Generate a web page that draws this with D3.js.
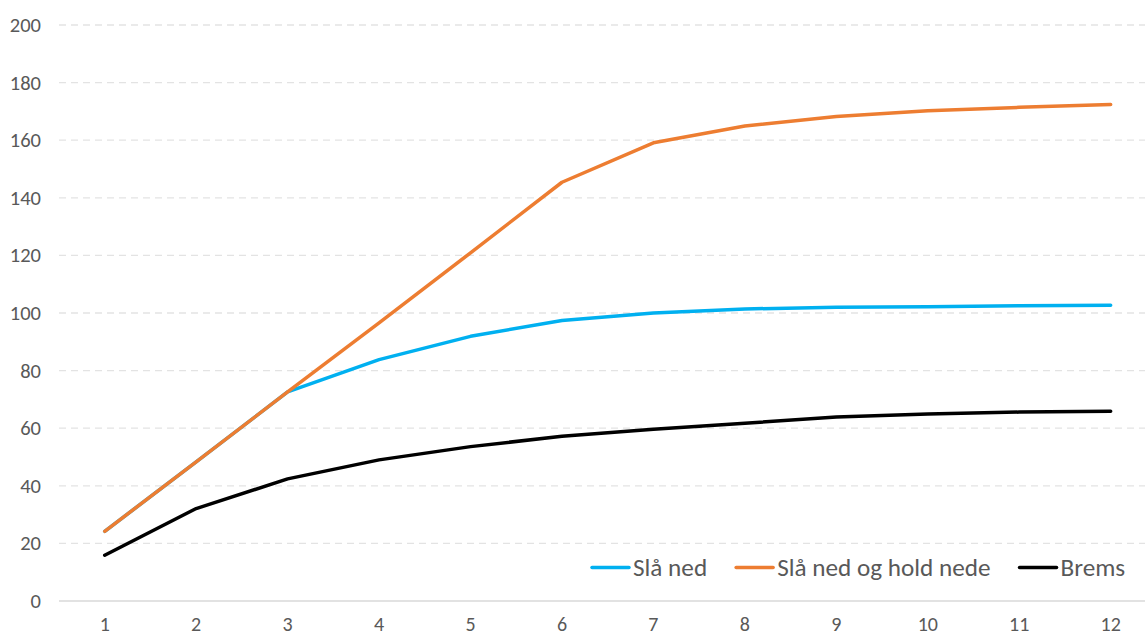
<!DOCTYPE html>
<html>
<head>
<meta charset="utf-8">
<script src="https://cdn.jsdelivr.net/npm/d3@7"></script>
<style>
  html, body { margin: 0; padding: 0; background: #fff; }
  svg { display: block; }
  text { font-family: Calibri, Carlito, Lato, "Liberation Sans", sans-serif; fill: #595959; }
</style>
</head>
<body>
<svg id="chart" width="1145" height="635"></svg>
<script>
const categories = [1, 2, 3, 4, 5, 6, 7, 8, 9, 10, 11, 12];
const seriesNames = ["Slå ned", "Slå ned og hold nede", "Brems"];
const slaNed = [24.2, 48.3, 72.6, 83.8, 91.9, 97.4, 100.0, 101.4, 102.0, 102.2, 102.5, 102.7];
const slaNedHold = [24.2, 48.3, 72.6, 96.6, 120.9, 145.4, 159.1, 164.9, 168.2, 170.2, 171.4, 172.4];
const brems = [15.9, 32.1, 42.4, 49.0, 53.6, 57.2, 59.6, 61.7, 63.9, 64.9, 65.6, 65.9];
const yTicks = [0, 20, 40, 60, 80, 100, 120, 140, 160, 180, 200];
const colors = ["#00B0F0", "#ED7D31", "#000000"];

const seriesValues = [slaNed, slaNedHold, brems];

const svg = d3.select("#chart");
const plotLeft = 59, bandW = 91.45;
const x = d3.scaleBand().domain(categories).range([plotLeft, plotLeft + bandW * categories.length]).padding(0);
const y = d3.scaleLinear().domain([0, 200]).range([601, 25]);
const xc = d => x(d) + x.bandwidth() / 2;
const plotRight = plotLeft + bandW * categories.length;
const FONT = 'Calibri, Carlito, Lato, "Liberation Sans", sans-serif';

// gridlines
svg.append("g").selectAll("line").data(yTicks.filter(t => t > 0)).join("line")
  .attr("x1", plotLeft).attr("x2", plotRight)
  .attr("y1", d => y(d)).attr("y2", d => y(d))
  .attr("stroke", "#e3e3e3").attr("stroke-width", 1.3)
  .attr("stroke-dasharray", "7,5");

// x axis line
svg.append("line")
  .attr("x1", plotLeft).attr("x2", plotRight)
  .attr("y1", y(0)).attr("y2", y(0))
  .attr("stroke", "#d9d9d9").attr("stroke-width", 1.5);

// y axis labels
const yAxis = d3.axisLeft(y).tickValues(yTicks).tickSize(0).tickPadding(0);
const gy = svg.append("g").attr("transform", "translate(41,0)").call(yAxis);
gy.select(".domain").remove();
gy.selectAll("text").attr("font-size", 20.5).attr("fill", "#595959").style("font-family", FONT);

// x axis labels
const xAxis = d3.axisBottom(x).tickSize(0).tickPadding(0);
const gx = svg.append("g").attr("transform", "translate(0,616.5)").call(xAxis);
gx.select(".domain").remove();
gx.selectAll("text").attr("font-size", 20).attr("fill", "#595959").attr("dy", "0.71em").style("font-family", FONT);

// lines
const line = d3.line().x((d, i) => xc(categories[i])).y(d => y(d));
svg.append("g").selectAll("path").data(seriesValues).join("path")
  .attr("d", d => line(d))
  .attr("fill", "none")
  .attr("stroke", (d, i) => colors[i])
  .attr("stroke-width", 3.5)
  .attr("stroke-linejoin", "round")
  .attr("stroke-linecap", "round");

// legend
const legendY = 567.5;
const legendFont = 25.2;
const leg = svg.append("g");
let cx = 592;
seriesNames.forEach((name, i) => {
  leg.append("line")
    .attr("x1", cx).attr("x2", cx + 37)
    .attr("y1", legendY).attr("y2", legendY)
    .attr("stroke", colors[i]).attr("stroke-width", 3.5).attr("stroke-linecap", "round");
  const t = leg.append("text")
    .attr("x", cx + 41).attr("y", legendY + 8)
    .attr("font-size", legendFont)
    .text(name);
  const w = t.node().getComputedTextLength();
  cx = cx + 41 + w + 29;
});
</script>
</body>
</html>
